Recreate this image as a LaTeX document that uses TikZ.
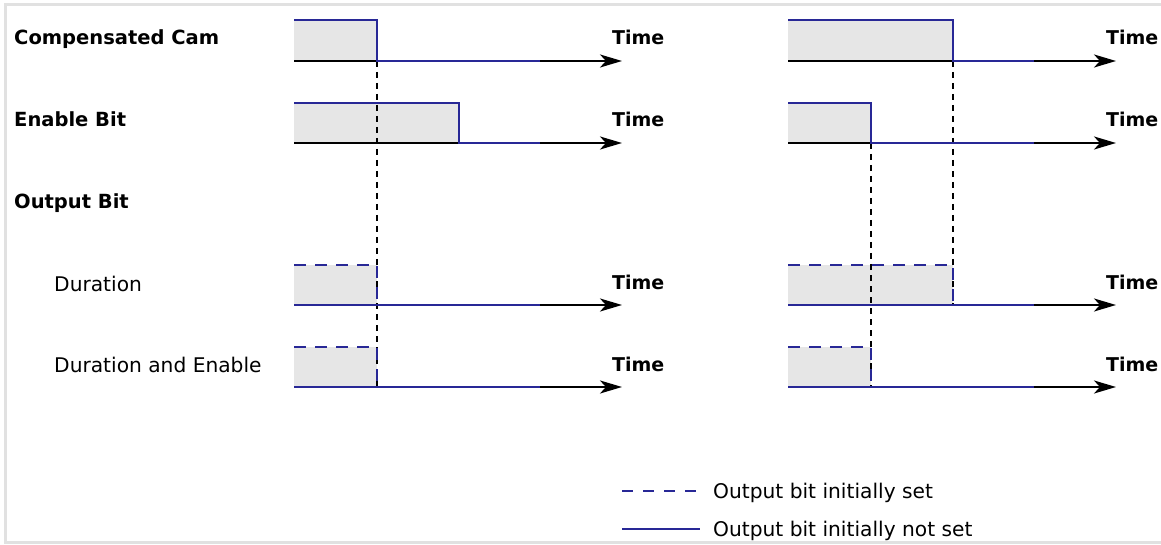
\documentclass[tikz,border=0pt]{standalone}
\usepackage{fontspec}
\setmainfont{DejaVu Sans}
\usetikzlibrary{arrows.meta}
\definecolor{sigblue}{RGB}{40,40,150}
\definecolor{shade}{RGB}{230,230,230}
\definecolor{framegray}{RGB}{225,225,225}
\begin{document}
\begin{tikzpicture}[x=1pt,y=-1pt,
  lbl/.style={anchor=base west, inner sep=0pt, font=\fontsize{19.5}{22}\selectfont\bfseries},
  tlbl/.style={anchor=base west, inner sep=0pt, font=\fontsize{19}{22}\selectfont\bfseries},
  sublbl/.style={anchor=base west, inner sep=0pt, font=\fontsize{20.2}{22}\selectfont},
  axis/.style={draw=black, line width=2.4pt, -{Stealth[length=22pt,width=13pt,inset=6pt]}},
  sig/.style={draw=sigblue, line width=2.4pt},
  sigset/.style={draw=sigblue, line width=2.4pt, dash pattern=on 12pt off 9pt},
  guide/.style={draw=black, line width=2pt, dash pattern=on 6pt off 5pt},
  fillbox/.style={fill=shade, draw=none},
  framel/.style={draw=framegray, line width=3pt}]
\useasboundingbox (0,0) rectangle (1161,545);
\fill[white] (0,0) rectangle (1161,545);
% frame
\draw[framel] (1161,5) -- (5,5) -- (5,542) -- (1161,542);

% row labels
\node[lbl] (lcam) at (14,45) {Compensated Cam};
\node[lbl] (len) at (14,127) {Enable Bit};
\node[lbl] (lout) at (14,209) {Output Bit};
\node[sublbl] (ldur) at (54,291) {Duration};
\node[sublbl] (ldue) at (54,372) {Duration and Enable};

% panels: offset / cam width / enable width / min width
\foreach \dx/\c/\e/\m in {0/83/165/83, 494/165/83/83}{
  \begin{scope}[xshift=\dx pt]
    % shading
    \fill[fillbox] (294,20) rectangle (294+\c,61);
    \fill[fillbox] (294,103) rectangle (294+\e,143);
    \fill[fillbox] (294,265) rectangle (294+\c,305);
    \fill[fillbox] (294,347) rectangle (294+\m,387);
    % time axes
    \foreach \y/\n in {61/a, 143/b, 305/c, 387/d}{
      \draw[axis] (294,\y) -- (622,\y);
      \node[tlbl] (time\n\dx) at (612,\y-16) {Time};
    }
  \end{scope}
}
% guides
\draw[guide] (377,61) -- (377,387);
\draw[guide] (953,61) -- (953,305);
\draw[guide] (871,143) -- (871,387);

% signals left
\draw[sig] (294,20) -- (377,20) -- (377,61) -- (540,61);
\draw[sig] (294,103) -- (459,103) -- (459,143) -- (540,143);
\draw[sigset] (294,265) -- (377,265) -- (377,305);
\draw[sig] (294,305) -- (540,305);
\draw[sigset] (294,347) -- (377,347) -- (377,387);
\draw[sig] (294,387) -- (540,387);
% signals right
\draw[sig] (788,20) -- (953,20) -- (953,61) -- (1034,61);
\draw[sig] (788,103) -- (871,103) -- (871,143) -- (1034,143);
\draw[sigset] (788,265) -- (953,265) -- (953,305);
\draw[sig] (788,305) -- (1034,305);
\draw[sigset] (788,347) -- (871,347) -- (871,387);
\draw[sig] (788,387) -- (1034,387);

% legend
\coordinate (lg1a) at (622,491);
\coordinate (lg1b) at (700,491);
\coordinate (lg2a) at (622,529);
\coordinate (lg2b) at (700,529);
\draw[sigset, line width=2pt, dash pattern=on 11pt off 10pt] (lg1a) -- (lg1b);
\draw[sig, line width=2pt] (lg2a) -- (lg2b);
\node[sublbl] (leg1) at (713,498) {Output bit initially set};
\node[sublbl] (leg2) at (713,536) {Output bit initially not set};
\end{tikzpicture}
\end{document}
